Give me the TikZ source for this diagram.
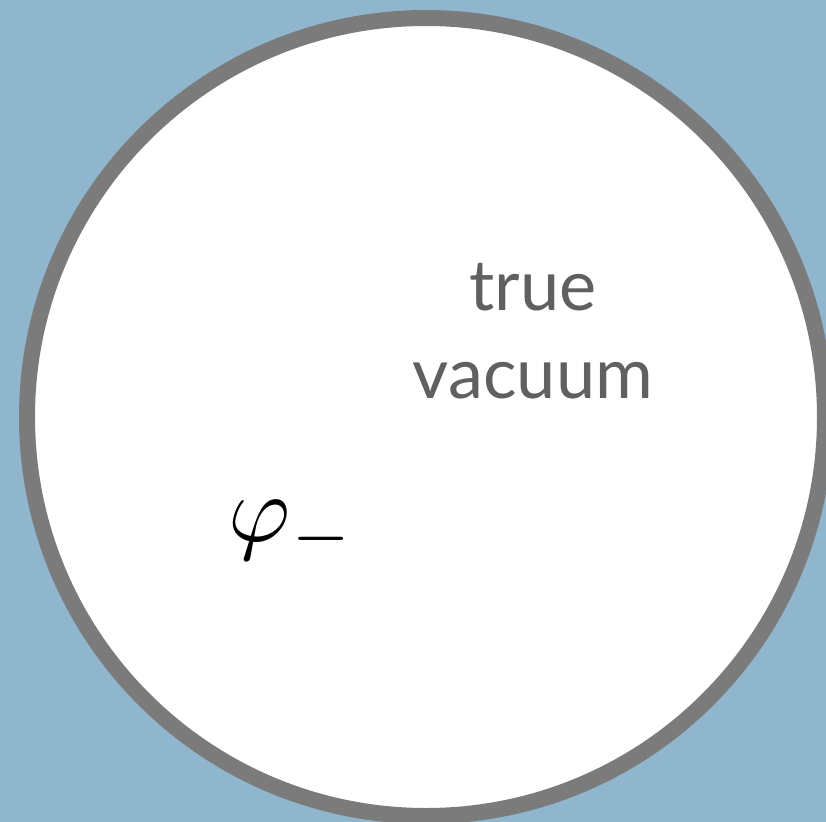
\documentclass[tikz,border=0pt]{standalone}
\usepackage{amsmath}
\usepackage{fontspec}
\usepackage{tikz}
\newfontfamily\labelfont{Lato}
\definecolor{skyback}{RGB}{143,182,205}
\definecolor{wallgrey}{RGB}{123,123,123}
\definecolor{labelgrey}{RGB}{96,96,96}

\begin{document}
\begin{tikzpicture}[x=0.02cm, y=-0.02cm]
        \useasboundingbox (0,0) rectangle (826,822);
        \clip (0,0) rectangle (826,822);
        \fill[skyback] (0,0) rectangle (826,822);

        \coordinate (centre) at (426,417);
        \draw[wallgrey, fill=white, line width=0.32cm] (centre) circle (399);

        \node[labelgrey, align=center, font=\labelfont\fontsize{40}{50}\selectfont] (label) at (533,331) {true\\vacuum};
        \node[black, scale=5.4] (field) at (292,532) {$\varphi_-$};
\end{tikzpicture}
\end{document}
